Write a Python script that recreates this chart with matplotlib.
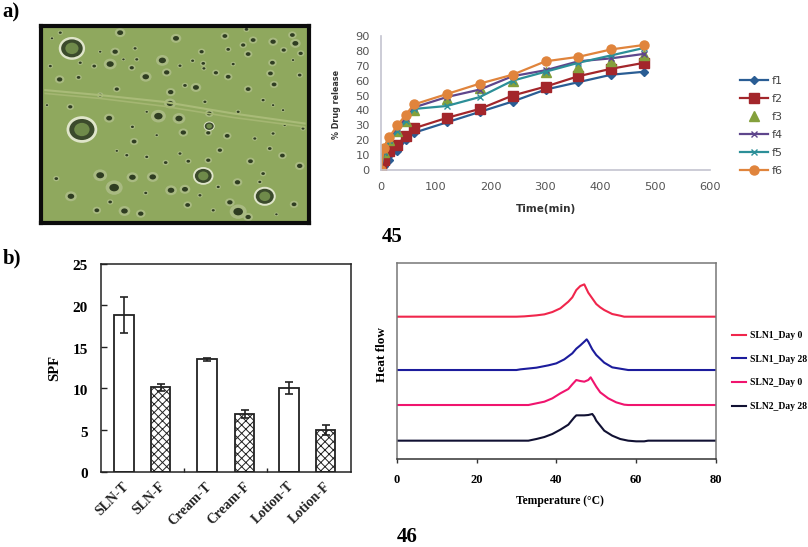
import matplotlib
matplotlib.use("Agg")
import matplotlib.pyplot as plt
from matplotlib.patches import Ellipse
from matplotlib.transforms import ScaledTranslation

W, H = 808, 547
SERIF = ["Liberation Serif", "DejaVu Serif"]
plt.rcParams["hatch.linewidth"] = 0.7

# ---- panel a: release profile
time_min = [0, 5, 15, 30, 45, 60, 120, 180, 240, 300, 360, 420, 480]
f1 = [0, 3, 7, 13, 20, 25, 32, 39, 46, 54, 59, 64, 66]
f2 = [0, 7, 13, 17, 23, 28, 35, 41, 50, 56, 63, 68, 72]
f3 = [0, 12, 20, 26, 33, 40, 48, 55, 60, 66, 69, 73, 77]
f4 = [0, 12, 20, 28, 35, 42, 49, 54, 63, 67, 73, 75, 78]
f5 = [0, 12, 20, 26, 33, 41, 43, 49, 60, 66, 72, 77, 82]
f6 = [0, 15, 22, 30, 37, 44, 51, 58, 64, 73, 76, 81, 84]

# ---- panel b: SPF bars
bar_labels = ["SLN-T", "SLN-F", "Cream-T", "Cream-F", "Lotion-T", "Lotion-F"]
spf = [18.8, 10.1, 13.5, 6.9, 10.0, 5.0]
spf_err = [2.2, 0.4, 0.2, 0.5, 0.7, 0.6]

# ---- panel b: DSC curves (temperature, height above baseline; baselines are offsets)
t1 = [0, 30, 32, 35, 37, 39, 41, 43, 44, 45, 46, 47, 48, 49, 50, 51, 52, 54, 56, 57, 80]
h1 = [0, 0, 1, 4, 7, 14, 25, 45, 58, 80, 92, 97, 72, 55, 38, 28, 20, 8, 3, 0, 0]
t2 = [0, 30, 31, 35, 38, 40, 42, 44, 45, 46, 47, 47.6, 48, 49, 50, 52, 54, 56, 58, 80]
h2 = [0, 0, 2, 7, 14, 20, 32, 50, 64, 74, 85, 92, 85, 62, 45, 22, 8, 4, 0, 0]
t3 = [0, 33, 35, 37, 39, 41, 43, 44, 45, 46, 47, 48, 48.6, 50, 51, 53, 55, 57, 58, 80]
h3 = [0, 0, 5, 10, 20, 35, 48, 62, 75, 72, 70, 75, 83, 55, 38, 20, 8, 1, 0, 0]
t4 = [0, 33, 35, 37, 39, 41, 43, 44.5, 45, 47, 48, 49, 49.5, 50, 52, 54, 56, 58, 60, 62, 63, 80]
h4 = [0, 0, 5, 11, 20, 33, 48, 70, 76, 76, 77, 80, 72, 60, 30, 15, 5, 0, -2, -2, 0, 0]
baselines = [427, 267, 162, 55]
dsc_names = ["SLN1_Day 0", "SLN1_Day 28", "SLN2_Day 0", "SLN2_Day 28"]

# ---- micrograph spots (x, y, core radius)
spots = [(360,98,10),(528,115,10),(675,108,8),(740,88,6),(878,105,8),(887,130,10),(820,125,9),(760,120,8),
(730,135,7),(345,155,9),(330,192,12),(487,181,12),(605,155,7),(610,190,6),(685,148,6),(745,162,8),(852,150,7),
(903,160,7),(818,188,8),(812,220,8),(648,218,7),(685,230,8),(500,217,9),(437,230,11),(395,203,7),(282,198,6),
(240,188,5),(178,238,9),(235,232,6),(150,198,5),(410,178,5),(370,178,4),(540,197,5),(578,182,5),(612,205,5),
(700,192,5),(900,225,6),(880,180,4),(823,253,8),(745,267,8),(588,262,10),(512,276,9),(555,256,6),(350,267,7),
(300,285,6),(510,310,11),(628,340,8),(210,320,7),(140,315,4),(475,348,14),(537,355,12),(327,354,10),(625,398,7),
(682,407,8),(550,397,9),(402,424,8),(397,380,5),(660,450,7),(752,483,8),(848,466,8),(810,445,6),(765,415,5),
(820,400,5),(910,385,5),(855,375,4),(900,497,9),(625,480,7),(565,483,6),(497,487,6),(440,470,5),(380,465,5),
(350,452,4),(470,405,4),(540,460,5),(300,525,13),(397,531,11),(458,530,11),(713,546,9),(342,562,16),(513,570,11),
(555,567,10),(212,588,11),(790,520,6),(780,545,5),(655,560,5),(600,585,5),(437,578,5),(290,630,8),(373,632,11),
(422,640,9),(563,614,8),(690,606,9),(715,634,16),(745,650,9),(883,612,8),(168,535,6),(830,642,4),(330,605,6),
(640,630,5),(790,300,5),(820,315,4),(715,335,5),(615,305,5),(440,335,4),(850,330,4),(180,98,5),(155,115,4),
(300,155,4),(405,145,5)]
rings = [(215,145,36),(245,388,42),(610,527,28),(795,588,30),(628,378,15)]

fig = plt.figure(figsize=(W / 100, H / 100), dpi=100, facecolor="white")


def px_axes(left, top, right, bottom, **kw):
    return fig.add_axes([left / W, 1 - bottom / H, (right - left) / W, (bottom - top) / H], **kw)


def label(x, y, s, size):
    fig.text(x / W, 1 - y / H, s, fontsize=size, fontweight="bold", family=SERIF, ha="left", va="center")


label(2, 12, "a)", 15)
label(3, 258, "b)", 15)
label(382, 237, "45", 15)
label(397, 537, "46", 15)

# micrograph
ax0 = px_axes(41, 26, 309, 223)
ax0.set_xlim(122, 928)
ax0.set_ylim(668, 78)
ax0.set_facecolor("#8fa85e")
ax0.set_xticks([])
ax0.set_yticks([])
for s in ax0.spines.values():
    s.set_linewidth(3)
    s.set_color("#0c0c0c")
ax0.plot([135, 300, 490, 700, 915], [270, 285, 305, 340, 370], color="#a9bb78", lw=1.5)
ax0.plot([135, 300, 490, 700, 915], [280, 295, 318, 352, 380], color="#a4b672", lw=1.2)
for x, y, r in spots:
    ax0.add_patch(Ellipse((x, y), r * 3.2, r * 2.7, fc="#a9ba82", ec="none"))
    ax0.add_patch(Ellipse((x, y), r * 1.8, r * 1.4, fc="#2f3d22", ec="none"))
for x, y, r in rings:
    ax0.add_patch(Ellipse((x, y), r * 2.2, r * 1.9, fc="#dfe5ca", ec="none"))
    ax0.add_patch(Ellipse((x, y), r * 1.8, r * 1.5, fc="#3b4a2c", ec="none"))
    ax0.add_patch(Ellipse((x, y), r * 1.1, r * 0.95, fc="#6f8a4a", ec="none"))

# release chart
ax1 = px_axes(381, 36, 710, 170)
styles = [
    (f1, "f1", "#2a5d94", "D", 4.2),
    (f2, "f2", "#a3262b", "s", 7),
    (f3, "f3", "#84a03c", "^", 6.5),
    (f4, "f4", "#5e468c", "x", 5),
    (f5, "f5", "#2c8f98", "x", 5),
    (f6, "f6", "#e0843c", "o", 6.5),
]
for vals, name, c, m, ms in styles:
    ax1.plot(time_min, vals, color=c, marker=m, ms=ms, lw=1.6, mew=1, label=name,
             ls="none" if name == "f3" else "-")
ax1.set_xlim(0, 600)
ax1.set_ylim(0, 90)
ax1.set_xticks(range(0, 601, 100))
ax1.set_yticks(range(0, 91, 10))
ax1.tick_params(length=0, labelsize=8.2, labelcolor="#555555")
ax1.tick_params(axis="x", pad=9)
ax1.tick_params(axis="y", pad=8)
for s in ("top", "right"):
    ax1.spines[s].set_visible(False)
for s in ("left", "bottom"):
    ax1.spines[s].set_color("#c4c4d0")
    ax1.spines[s].set_linewidth(1.2)
ax1.set_xlabel("Time(min)", fontsize=7.5, fontweight="bold", color="#333333", labelpad=8)
ax1.set_ylabel("% Drug release", fontsize=5.8, fontweight="bold", color="#333333")
ax1.yaxis.set_label_coords(-0.122, 0.49)
ax1.legend(loc="center left", bbox_to_anchor=(1.091, 0.328), frameon=False, fontsize=8,
           labelspacing=0.73, handlelength=2.5, handletextpad=0.35, labelcolor="#444444",
           borderpad=0, borderaxespad=0)

# SPF bars
ax2 = px_axes(100.5, 263.5, 350.5, 471.5)
bar_pos = [0.28, 0.72, 1.275, 1.73, 2.26, 2.70]
for i, (p, v, e) in enumerate(zip(bar_pos, spf, spf_err)):
    hatched = i % 2 == 1
    ax2.bar(p, v, width=0.235, facecolor="white", edgecolor="#222222", lw=1.3,
            hatch="xxxx" if hatched else None, yerr=e,
            error_kw=dict(ecolor="#222222", elinewidth=1.2, capsize=2.8, capthick=1.2))
ax2.set_xlim(0, 3)
ax2.set_ylim(0, 25)
ax2.set_xticks([1, 2])
ax2.set_xticklabels([])
ax2.tick_params(axis="x", direction="in", length=3, width=1, color="#222222")
ax2.set_yticks(range(0, 26, 5))
ax2.tick_params(axis="y", direction="in", length=4, width=1, color="#222222", pad=9)
shift = ScaledTranslation(0, -2 / 100, fig.dpi_scale_trans)
for t in ax2.get_yticklabels():
    t.set_fontproperties({"family": SERIF, "weight": "bold", "size": 11})
    t.set_transform(t.get_transform() + shift)
for s in ax2.spines.values():
    s.set_color("#222222")
    s.set_linewidth(1.1)
ax2.set_ylabel("SPF", fontsize=10.5, fontweight="bold", family=SERIF, labelpad=8)
for p, name in zip(bar_pos, bar_labels):
    ax2.annotate(name, xy=(p, 0), xycoords=("data", "axes fraction"), xytext=(-1, -6), textcoords="offset points",
                 rotation=45, ha="right", va="top", rotation_mode="anchor",
                 fontsize=10, fontweight="bold", family=SERIF, color="#222222")

# DSC
ax3 = px_axes(396.7, 262.7, 716, 459)
curves = [(t1, h1, "#f0264c", "-"), (t2, h2, "#1c1c9c", "-"), (t3, h3, "#f0146e", "-"), (t4, h4, "#111133", "-")]
for (t, h, c, ls), b, name in zip(curves, baselines, dsc_names):
    ax3.plot(t, [b + v for v in h], color=c, ls=ls, lw=1.5, label=name)
ax3.set_xlim(0, 80)
ax3.set_ylim(0, 589)
ax3.set_xticks(range(0, 81, 20))
ax3.set_yticks([])
ax3.tick_params(axis="x", length=3, width=1, color="#333333", pad=8)
for t in ax3.get_xticklabels():
    t.set_fontproperties({"family": SERIF, "weight": "bold", "size": 9})
for s in ax3.spines.values():
    s.set_color("#777777")
    s.set_linewidth(1.1)
ax3.spines["bottom"].set_color("#333333")
ax3.set_xlabel("Temperature (°C)", fontsize=8.4, fontweight="bold", family=SERIF, labelpad=6, x=0.51)
ax3.set_ylabel("Heat flow", fontsize=9.5, fontweight="bold", family=SERIF, y=0.53, labelpad=6)
ax3.legend(loc="center left", bbox_to_anchor=(1.05, 0.448), frameon=False,
           prop={"family": SERIF, "weight": "bold", "size": 6.9},
           labelspacing=1.52, handlelength=1.5, handletextpad=0.4, borderpad=0, borderaxespad=0)

fig.savefig("out.png", dpi=100)
